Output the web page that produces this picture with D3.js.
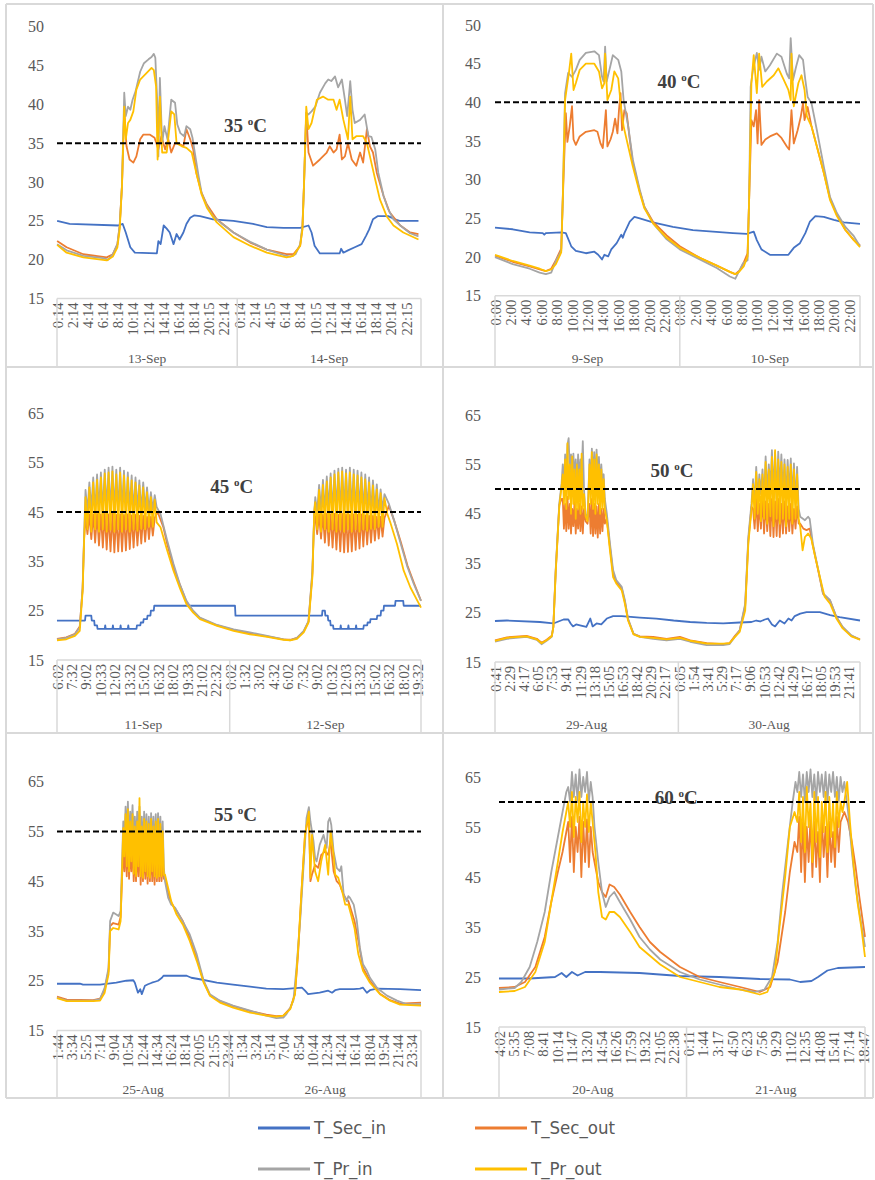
<!DOCTYPE html>
<html><head><meta charset="utf-8">
<script src="https://cdn.jsdelivr.net/npm/d3@7"></script>
<style>body{margin:0;background:#fff}svg{display:block}</style>
</head><body><svg id="c" width="875" height="1180"></svg>
<script>
// ---------------- DATA (time in hours from midnight of first day, value in °C) ----------------
const seriesNames = ["T_Sec_in","T_Sec_out","T_Pr_in","T_Pr_out"];
const seriesColors = ["#4472C4","#ED7D31","#A5A5A5","#FFC000"];
const thresholds = [35,40,45,50,55,60];

const p35_days = ["13-Sep","14-Sep"];
const p35_ticks1 = ["0:14","2:14","4:14","6:14","8:14","10:14","12:14","14:14","16:14","18:14","20:15","22:14"];
const p35_ticks2 = ["0:14","2:14","4:15","6:14","8:14","10:15","12:14","14:14","16:14","18:14","20:14","22:15"];
const p35_secIn = [[0.25,25.0],[1.9,24.6],[8.3,24.4],[8.9,24.6],[9.3,23.5],[9.9,21.6],[10.5,20.9],[13.4,20.8],[13.6,22.4],[13.9,22.0],[14.3,24.4],[14.7,24.0],[15.1,23.5],[15.6,22.0],[16.0,23.3],[16.4,22.6],[16.9,23.5],[17.3,24.6],[17.8,25.4],[18.3,25.7],[19.1,25.6],[20.8,25.2],[23.5,25.0],[26.1,24.6],[27.9,24.2],[30.1,24.1],[32.3,24.1],[33.4,24.4],[33.8,23.5],[34.2,21.8],[34.9,20.8],[37.5,20.8],[37.7,21.4],[38.0,20.9],[38.6,21.2],[39.5,21.6],[40.4,22.0],[41.0,23.1],[41.4,23.9],[41.9,25.2],[42.5,25.6],[43.9,25.6],[44.8,25.2],[45.4,25.0],[47.9,25.0]];
const p35_secOut = [[0.25,22.4],[1.5,21.6],[3.7,20.7],[6.8,20.3],[7.6,20.7],[8.2,22.0],[8.5,24.4],[8.8,29.5],[9.1,39.3],[9.4,34.6],[9.8,32.9],[10.3,32.5],[10.7,33.3],[11.2,35.5],[11.6,36.1],[12.5,36.1],[13.1,35.7],[13.6,34.2],[14.0,35.9],[14.5,34.2],[14.9,35.5],[15.3,33.8],[15.8,35.0],[16.4,34.9],[16.9,34.6],[17.3,36.8],[17.8,35.5],[18.2,34.2],[18.6,31.2],[19.3,28.6],[20.0,27.1],[21.3,25.2],[23.5,23.5],[25.7,22.2],[27.9,21.3],[30.5,20.7],[31.4,20.7],[32.3,21.8],[32.6,24.1],[32.8,29.5],[33.1,38.9],[33.4,33.8],[34.0,32.1],[34.9,32.9],[35.8,33.8],[36.2,34.6],[36.7,33.8],[37.1,34.2],[37.5,36.1],[37.8,32.9],[38.2,33.3],[38.6,35.0],[39.1,32.9],[39.7,32.1],[40.2,33.8],[40.6,32.5],[41.1,36.8],[41.5,34.6],[41.9,33.8],[42.4,31.2],[43.3,28.2],[44.1,26.1],[45.5,24.4],[46.8,23.5],[47.9,23.3]];
const p35_prIn = [[0.25,22.0],[1.5,21.2],[3.7,20.5],[6.3,20.2],[7.0,20.0],[7.6,20.7],[8.2,22.0],[8.5,24.4],[8.8,29.5],[9.1,41.5],[9.3,38.5],[9.6,39.7],[9.9,39.3],[10.2,40.6],[10.6,41.7],[11.2,44.2],[11.7,45.3],[12.3,45.8],[12.7,46.1],[13.0,46.5],[13.2,46.0],[13.5,39.3],[13.6,33.3],[13.8,43.4],[14.1,35.0],[14.4,37.2],[14.8,35.5],[15.3,40.6],[15.8,40.2],[16.1,37.4],[16.5,36.3],[17.0,35.9],[17.3,37.2],[17.8,36.8],[18.1,35.7],[18.4,33.8],[18.9,30.8],[19.3,28.6],[20.0,26.9],[20.8,25.6],[21.9,24.7],[23.5,23.5],[25.7,22.3],[27.9,21.3],[30.1,20.6],[31.0,20.4],[31.7,20.7],[32.3,22.0],[32.6,24.4],[32.8,29.5],[33.1,38.9],[33.4,38.7],[33.8,39.1],[34.3,39.7],[34.9,41.5],[35.6,42.7],[36.0,43.2],[36.4,43.0],[36.9,43.6],[37.3,42.2],[37.8,43.2],[38.2,40.6],[38.5,38.5],[38.9,43.0],[39.2,39.3],[39.5,37.6],[40.2,38.0],[40.8,38.7],[41.3,35.9],[41.7,35.8],[42.2,34.2],[42.6,31.2],[43.3,28.2],[43.9,26.5],[44.6,25.2],[45.5,24.4],[46.8,23.4],[47.9,23.0]];
const p35_prOut = [[0.25,21.9],[1.5,20.9],[3.7,20.3],[6.8,19.9],[7.6,20.4],[8.2,21.6],[8.5,23.9],[8.8,29.5],[9.1,39.7],[9.3,35.5],[9.6,37.6],[9.9,38.0],[10.3,39.1],[10.7,41.9],[11.2,43.2],[12.0,44.0],[12.7,44.7],[13.0,44.4],[13.3,42.3],[13.5,32.9],[13.8,41.0],[14.1,33.8],[14.7,33.8],[15.3,39.1],[15.7,38.7],[16.0,35.0],[16.7,34.6],[17.3,34.4],[18.0,33.8],[18.6,31.2],[19.3,28.4],[20.0,26.7],[21.3,24.8],[23.5,22.9],[25.7,21.8],[27.9,20.9],[30.5,20.3],[31.4,20.5],[32.3,21.8],[32.6,23.9],[32.8,29.5],[33.1,39.7],[33.4,36.8],[33.8,37.6],[34.5,40.6],[35.3,41.0],[36.0,40.6],[36.7,40.6],[37.1,39.3],[37.5,40.6],[38.0,38.0],[38.6,35.5],[38.9,41.0],[39.2,35.5],[39.7,35.9],[40.6,35.9],[41.1,35.0],[41.5,33.3],[42.2,30.3],[42.8,27.8],[43.7,25.6],[44.6,24.4],[45.9,23.5],[47.9,22.6]];

const p40_days = ["9-Sep","10-Sep"];
const p40_ticks1 = ["0:00","2:00","4:00","6:00","8:00","10:00","12:00","14:00","16:00","18:00","20:00","22:00"];
const p40_ticks2 = ["0:00","2:00","4:00","6:00","8:00","10:00","12:00","14:00","16:00","18:00","20:00","22:00"];
const p40_secIn = [[0,23.8],[2.3,23.6],[4.5,23.2],[6.2,23.1],[6.4,22.9],[6.6,23.1],[8.6,23.2],[9.2,23.1],[9.9,21.4],[10.5,20.8],[11.8,20.5],[12.9,20.7],[13.4,20.3],[13.9,19.7],[14.2,20.3],[14.7,20.1],[15.1,21.0],[15.8,21.8],[16.4,22.9],[16.6,22.5],[16.8,23.1],[17.5,24.6],[18.1,25.2],[18.8,25.0],[20.5,24.5],[23.1,23.9],[25.7,23.5],[28.3,23.3],[30.9,23.1],[32.7,23.0],[33.6,23.3],[34.0,22.2],[34.6,21.0],[35.7,20.3],[38.1,20.3],[38.8,21.2],[39.6,21.8],[40.3,23.1],[40.9,24.6],[41.6,25.3],[42.7,25.2],[44.0,24.8],[45.3,24.5],[47.4,24.3]];
const p40_secOut = [[0,20.2],[2.3,19.4],[4.5,18.8],[5.8,18.4],[6.6,18.2],[7.3,18.5],[7.9,19.6],[8.6,21.1],[8.8,27.4],[9.2,38.6],[9.4,34.9],[9.7,36.9],[10.0,39.5],[10.2,35.2],[10.5,34.5],[11.0,35.6],[11.8,36.2],[12.9,36.4],[13.3,36.2],[13.7,34.7],[14.0,34.1],[14.4,39.0],[14.6,34.3],[15.0,35.2],[15.3,36.2],[15.6,37.9],[15.9,36.0],[16.1,39.0],[16.3,41.2],[16.5,36.4],[16.8,39.0],[17.1,38.6],[17.5,35.2],[17.9,32.2],[18.8,28.5],[19.4,26.5],[20.5,24.6],[22.3,22.8],[24.0,21.4],[26.6,19.9],[28.8,18.9],[30.5,18.1],[31.2,17.8],[31.8,18.3],[32.3,19.3],[32.8,20.5],[33.0,27.4],[33.3,37.7],[33.6,36.9],[33.9,39.0],[34.1,34.7],[34.3,40.3],[34.6,34.5],[35.1,35.2],[35.7,35.6],[36.6,36.0],[37.2,35.4],[37.9,34.3],[38.2,33.9],[38.5,39.0],[38.8,34.7],[39.3,36.4],[39.7,38.1],[40.0,39.9],[40.2,37.7],[40.6,39.4],[41.1,36.9],[41.8,34.3],[42.7,30.9],[43.5,27.6],[44.4,25.5],[45.5,23.5],[46.6,22.2],[47.4,21.5]];
const p40_prIn = [[0,20.0],[2.3,19.1],[4.5,18.5],[5.8,18.0],[6.6,17.8],[7.3,18.0],[7.9,19.5],[8.6,20.8],[8.8,27.4],[9.1,41.2],[9.5,43.8],[10.0,43.3],[10.5,44.2],[11.0,45.5],[11.8,46.4],[12.9,46.6],[13.5,46.1],[13.9,43.3],[14.1,42.7],[14.3,47.2],[14.5,42.7],[15.0,44.8],[15.3,46.1],[16.0,45.5],[16.4,44.0],[16.7,40.3],[17.3,36.9],[17.9,32.6],[18.8,28.7],[19.4,26.5],[20.5,24.4],[22.3,22.3],[24.0,21.0],[26.6,19.7],[28.8,18.6],[30.5,17.5],[31.2,17.2],[31.6,18.0],[32.2,19.2],[32.8,19.6],[33.0,27.4],[33.2,42.0],[33.5,44.2],[34.0,46.4],[34.3,44.2],[34.6,45.9],[35.1,44.0],[35.7,44.8],[36.6,46.3],[37.2,45.9],[37.9,43.7],[38.2,43.1],[38.4,48.3],[38.7,42.9],[39.1,44.6],[39.5,46.1],[40.0,45.5],[40.3,42.9],[40.6,40.7],[41.1,39.9],[41.8,36.4],[42.7,31.7],[43.5,27.8],[44.4,25.7],[45.5,23.9],[46.6,22.7],[47.4,21.4]];
const p40_prOut = [[0,20.3],[2.3,19.5],[4.5,18.9],[5.8,18.5],[6.6,18.2],[7.3,18.4],[7.9,19.1],[8.6,20.6],[8.8,27.4],[9.1,40.3],[9.6,43.8],[9.9,46.3],[10.2,41.6],[10.5,42.5],[11.0,44.2],[11.8,45.0],[12.9,45.0],[13.5,44.0],[13.9,41.8],[14.2,42.5],[14.3,46.3],[14.6,40.3],[15.1,41.6],[15.5,44.0],[16.0,43.1],[16.4,39.0],[16.7,36.9],[17.3,34.3],[17.9,31.7],[18.8,28.3],[19.4,26.3],[20.5,24.4],[22.3,22.5],[24.0,21.2],[26.6,19.9],[28.8,18.9],[30.5,18.1],[31.2,17.8],[31.6,18.0],[32.3,18.8],[32.8,20.1],[33.0,27.4],[33.3,42.5],[33.6,46.1],[34.0,41.2],[34.3,46.3],[34.7,42.0],[35.3,42.7],[36.2,43.5],[36.8,44.4],[37.5,42.9],[38.1,41.6],[38.4,40.3],[38.5,46.3],[38.8,39.5],[39.4,42.5],[39.8,43.5],[40.2,41.6],[40.5,38.2],[41.1,36.9],[41.8,34.3],[42.7,30.9],[43.5,27.4],[44.4,25.3],[45.5,23.5],[46.6,22.2],[47.4,21.3]];

const p45_days = ["11-Sep","12-Sep"];
const p45_ticks1 = ["6:02","7:32","9:02","10:33","12:02","13:32","15:02","16:32","18:02","19:33","21:02","22:32"];
const p45_ticks2 = ["0:02","1:32","3:02","4:32","6:02","7:32","9:02","10:32","12:03","13:32","15:02","16:32","18:02","19:32"];
const p45_secIn = [[6.03,23],[8.95,23],[9.0,24],[9.6,24],[9.65,23],[9.9,23],[9.95,22],[10.2,22],[10.25,21.3],[11.0,21.3],[11.05,22],[11.1,21.3],[11.8,21.3],[11.85,22],[11.9,21.3],[12.6,21.3],[12.65,22],[12.7,21.3],[13.4,21.3],[13.45,22],[13.5,21.3],[14.3,21.3],[14.35,22],[14.7,22],[14.75,22.6],[15.0,22.6],[15.05,23.3],[15.4,23.3],[15.45,24],[15.75,24],[15.8,25],[16.1,25],[16.15,26],[24.55,26],[24.6,24],[33.6,24],[33.65,25],[33.9,25],[33.95,24],[34.2,24],[34.25,23],[34.45,23],[34.5,22],[34.75,22],[34.8,21.3],[35.5,21.3],[35.55,22],[35.6,21.3],[36.3,21.3],[36.35,22],[36.4,21.3],[37.1,21.3],[37.15,22],[37.2,21.3],[37.9,21.3],[37.95,22],[38.3,22],[38.35,22.6],[38.6,22.6],[38.65,23.3],[39.3,23.3],[39.35,24],[39.7,24],[39.75,25],[40.0,25],[40.05,26],[41.2,26],[41.25,27],[42.05,27],[42.1,26],[43.9,26]];
const p45_secOut = [[6.03,19.3],[7.0,19.6],[7.9,20.3],[8.4,21.8],[8.7,29.5],[8.85,39.5],[9.0,44],[9.2,40.5],[9.4,44.5],[9.6,39.5],[9.8,44.5],[10.0,38.8],[10.2,44.6],[10.4,38.2],[10.6,44.5],[10.8,37.8],[11.0,44.6],[11.2,37.4],[11.4,44.5],[11.6,37],[11.8,44.6],[12.0,36.8],[12.2,44.4],[12.4,37],[12.6,44.5],[12.8,37],[13.0,44.4],[13.2,37.2],[13.4,44.5],[13.6,37.5],[13.8,44.3],[14.0,37.8],[14.2,44.4],[14.4,38.2],[14.6,44.2],[14.8,38.6],[15.0,44.2],[15.2,39],[15.4,44],[15.6,39.5],[15.8,44],[16.0,40.2],[16.2,43.8],[16.5,45.0],[17.1,41.9],[17.5,38.5],[18.15,33.8],[18.85,30.1],[19.5,26.8],[20.2,24.8],[20.9,23.5],[22.7,22.0],[24.4,21.1],[26.1,20.4],[27.9,19.8],[29.6,19.2],[30.3,19.1],[31.0,19.5],[31.7,20.8],[32.2,22.8],[32.6,32.5],[32.8,44.6],[32.9,44],[33.1,40.5],[33.3,44.5],[33.5,39.6],[33.7,44.4],[33.9,38.8],[34.1,44.6],[34.3,38.2],[34.5,44.5],[34.7,37.8],[34.9,44.6],[35.1,37.4],[35.3,44.4],[35.5,37],[35.7,44.6],[35.9,36.8],[36.1,44.5],[36.3,36.9],[36.5,44.4],[36.7,37],[36.9,44.5],[37.1,37.3],[37.3,44.4],[37.5,37.6],[37.7,44.5],[37.9,38],[38.1,44.3],[38.3,38.4],[38.5,44.2],[38.7,38.8],[38.9,44.2],[39.1,39.2],[39.3,44],[39.5,39.6],[39.7,44],[39.9,40],[40.1,43.8],[40.4,45.3],[40.55,46.3],[41.1,43.3],[41.8,38.9],[42.5,34.1],[43.15,30.7],[43.9,27.0]];
const p45_prIn = [[6.03,19.2],[7.0,19.5],[7.9,20.2],[8.4,21.6],[8.7,29.7],[8.85,40],[9.0,49.5],[9.2,45],[9.4,51],[9.6,45.5],[9.8,52],[10.0,45],[10.2,52.6],[10.4,45.5],[10.6,53],[10.8,45],[11.0,53.6],[11.2,45.5],[11.4,54],[11.6,45],[11.8,54.2],[12.0,45.2],[12.2,53.6],[12.4,45],[12.6,54],[12.8,45.4],[13.0,53.4],[13.2,45],[13.4,53],[13.6,45.5],[13.8,52.4],[14.0,45],[14.2,52],[14.4,45.3],[14.6,51.4],[14.8,45],[15.0,51],[15.2,45.5],[15.4,50],[15.6,45.2],[15.8,49],[16.0,45.5],[16.2,48.4],[16.4,46.0],[16.8,44.6],[17.5,39.2],[18.15,34.5],[18.8,30.4],[19.5,27.0],[20.2,25.0],[20.9,23.6],[22.7,22.1],[24.4,21.2],[26.1,20.6],[27.9,19.9],[29.6,19.2],[30.3,19.0],[31.0,19.5],[31.7,20.9],[32.2,22.9],[32.6,33.1],[32.8,45],[32.9,48],[33.1,45],[33.3,50.5],[33.5,45.5],[33.7,51.5],[33.9,45],[34.1,52.2],[34.3,45.5],[34.5,52.8],[34.7,45],[34.9,53.4],[35.1,45.4],[35.3,53.8],[35.5,45],[35.7,54],[35.9,45.5],[36.1,53.6],[36.3,45],[36.5,54],[36.7,45.3],[36.9,53.6],[37.1,45],[37.3,53.4],[37.5,45.5],[37.7,53],[37.9,45],[38.1,52.6],[38.3,45.4],[38.5,52],[38.7,45],[38.9,51.4],[39.1,45.5],[39.3,50.6],[39.5,45],[39.7,49.6],[39.9,45.4],[40.1,48.6],[40.55,46.7],[41.1,43.3],[41.8,38.5],[42.5,33.8],[43.15,30.4],[43.9,27.0]];
const p45_prOut = [[6.03,19.0],[7.0,19.2],[7.9,19.9],[8.4,20.9],[8.7,29],[8.85,39],[9.0,48],[9.2,41.5],[9.4,50],[9.6,41],[9.8,51],[10.0,41.5],[10.2,51.5],[10.4,41],[10.6,52],[10.8,41.5],[11.0,52.8],[11.2,41],[11.4,53],[11.6,41.4],[11.8,53.2],[12.0,41],[12.2,52.6],[12.4,41.5],[12.6,53],[12.8,41],[13.0,52.4],[13.2,41.5],[13.4,52],[13.6,41],[13.8,51.4],[14.0,41.5],[14.2,51],[14.4,41.2],[14.6,50.4],[14.8,41.6],[15.0,50],[15.2,41.5],[15.4,49],[15.6,42],[15.8,48],[16.0,42],[16.2,47.5],[16.4,42.9],[16.8,41.9],[17.5,37.2],[18.15,33.1],[18.85,29.4],[19.5,26.3],[20.2,24.6],[20.9,23.3],[22.7,21.9],[24.4,20.9],[26.1,20.2],[27.9,19.7],[29.6,19.1],[30.3,19.0],[31.0,19.3],[31.7,20.6],[32.2,22.6],[32.6,31.8],[32.8,45.3],[32.9,47],[33.1,41.5],[33.3,49.5],[33.5,41],[33.7,50.5],[33.9,41.5],[34.1,51.2],[34.3,41],[34.5,52],[34.7,41.5],[34.9,52.6],[35.1,41],[35.3,53],[35.5,41.4],[35.7,53.2],[35.9,41],[36.1,52.8],[36.3,41.5],[36.5,53],[36.7,41],[36.9,52.6],[37.1,41.5],[37.3,52.4],[37.5,41],[37.7,52],[37.9,41.5],[38.1,51.6],[38.3,41.2],[38.5,51],[38.7,41.6],[38.9,50.4],[39.1,41.5],[39.3,49.6],[39.5,42],[39.7,48.8],[39.9,42],[40.1,47.8],[40.4,44.6],[40.7,42.9],[41.4,38.5],[42.1,33.1],[42.8,29.7],[43.9,25.6]];

const p50_days = ["29-Aug","30-Aug"];
const p50_ticks1 = ["0:41","2:29","4:17","6:05","7:53","9:41","11:29","13:18","15:05","16:53","18:42","20:29","22:17"];
const p50_ticks2 = ["0:05","1:54","3:41","5:29","7:17","9:06","10:53","12:42","14:29","16:17","18:05","19:53","21:41"];
const p50_secIn = [[0.68,23.3],[2.2,23.4],[6.4,23.1],[8.1,22.8],[9.4,23.6],[10.0,23.6],[10.3,22.8],[10.6,22.2],[11.0,22.6],[11.5,22.4],[12.3,22.1],[12.8,23.8],[13.1,22.2],[13.6,22.8],[14.2,22.6],[14.9,23.8],[15.7,24.3],[16.8,24.3],[19.1,24.0],[21.2,23.8],[23.4,23.4],[25.5,23.1],[27.6,22.9],[29.7,22.8],[31.8,23.0],[33.3,23.1],[33.9,23.4],[34.4,23.2],[35.0,23.6],[35.4,23.8],[35.9,22.6],[36.3,22.2],[36.9,23.4],[37.5,22.8],[38.0,23.8],[38.4,23.4],[38.8,24.3],[39.5,24.8],[40.3,25.1],[42.0,25.1],[43.3,24.5],[44.5,24.1],[47.1,23.4]];
const p50_secOut = [[0.68,19.4],[2.2,20.0],[4.7,20.3],[6.0,19.7],[6.6,18.9],[7.25,19.5],[7.9,20.3],[8.1,22.1],[8.4,33.3],[8.86,46.8],[9.15,48],[9.3,48],[9.45,42],[9.6,47],[9.75,41.5],[9.9,48.4],[10.05,42],[10.2,47],[10.35,41],[10.5,46],[10.65,42.5],[10.8,47.5],[10.95,41],[11.1,46],[11.25,42],[11.4,47],[11.55,41.5],[11.7,46.5],[11.85,41],[12.0,46],[12.2,43.5],[12.45,43],[12.7,47],[12.85,41],[13.0,48],[13.15,40.5],[13.3,47],[13.45,41],[13.6,46.5],[13.75,40.2],[13.9,47],[14.05,41],[14.2,46],[14.35,41.5],[14.5,46],[14.65,43],[14.9,44],[15.3,38.3],[15.7,32.9],[16.1,31.2],[16.8,29.9],[17.2,27.2],[17.6,23.6],[18.3,20.7],[19.1,20.2],[20.8,20.1],[22.5,19.7],[24.2,20.1],[25.5,19.4],[27.6,18.8],[29.7,18.6],[30.5,18.8],[31.2,20.3],[31.8,21.4],[32.5,26.4],[32.9,39.6],[33.3,46.4],[33.5,46],[33.7,42],[33.9,48],[34.1,41.5],[34.3,47],[34.5,42],[34.7,48.4],[34.9,41],[35.1,47.5],[35.3,41.5],[35.5,47],[35.7,40.5],[35.9,48],[36.1,40.3],[36.3,47.5],[36.5,40.5],[36.7,48],[36.9,40.3],[37.1,47],[37.3,41],[37.5,47.5],[37.7,41],[37.9,46.5],[38.1,41.5],[38.3,47],[38.5,41],[38.7,46],[38.9,42],[39.1,46.5],[39.3,43],[39.5,43],[39.9,42],[40.3,41.7],[40.7,42],[41.1,38.6],[41.8,33.4],[42.4,28.8],[43.3,27.4],[44.1,24.1],[44.9,22],[46.0,20.3],[47.1,19.6]];
const p50_prIn = [[0.68,19.1],[2.2,19.7],[4.7,20.1],[6.0,19.5],[6.6,18.6],[7.25,19.3],[7.9,20.1],[8.1,22.1],[8.4,33.6],[8.86,47.1],[9.15,51.1],[9.3,55],[9.45,50],[9.6,57],[9.75,52],[9.9,59],[10.05,60.3],[10.2,53],[10.35,57],[10.5,51],[10.65,57.2],[10.8,52],[10.95,56],[11.1,50],[11.25,57],[11.4,52],[11.55,56],[11.7,53],[11.85,59.7],[12.0,50],[12.2,45],[12.45,44],[12.7,56],[12.85,50],[13.0,58.2],[13.15,52],[13.3,57.5],[13.45,51],[13.6,58],[13.75,52],[13.9,56.5],[14.05,50],[14.2,55],[14.35,51],[14.5,53],[14.65,48],[14.9,45.1],[15.3,39],[15.7,33.6],[16.1,31.6],[16.8,30.2],[17.2,27.5],[17.6,23.8],[18.3,20.7],[19.1,20.1],[20.8,19.7],[22.5,19.4],[24.2,19.7],[25.5,19.1],[27.6,18.4],[29.7,18.4],[30.5,18.6],[31.2,20.1],[31.8,21.4],[32.5,26.8],[32.9,40.3],[33.3,47.1],[33.5,52],[33.7,47],[33.9,54.5],[34.1,48],[34.3,53],[34.5,49],[34.7,54],[34.9,48],[35.1,56.6],[35.3,49],[35.5,55],[35.7,50],[35.9,57.9],[36.1,49],[36.3,57.5],[36.5,48],[36.7,57.6],[36.9,50],[37.1,57],[37.3,49],[37.5,56],[37.7,48],[37.9,55.9],[38.1,49],[38.3,56.2],[38.5,48],[38.7,55.2],[38.9,47],[39.1,54.5],[39.3,46],[39.5,44.4],[40.1,43.7],[40.5,44.4],[40.7,44],[41.1,39],[41.8,33.6],[42.4,28.9],[43.3,27.5],[44.1,24.1],[44.9,22.1],[46.0,20.4],[47.1,19.5]];
const p50_prOut = [[0.68,19.3],[2.2,19.9],[4.7,20.2],[6.0,19.6],[6.6,18.8],[7.25,19.4],[7.9,20.2],[8.1,22.0],[8.4,33.0],[8.86,46.5],[9.15,50.5],[9.3,53],[9.45,47],[9.6,56],[9.75,46],[9.9,59.3],[10.05,48],[10.2,55],[10.35,45],[10.5,56.6],[10.65,47],[10.8,54],[10.95,44],[11.1,55],[11.25,46],[11.4,54],[11.55,45],[11.7,57.2],[11.85,46],[12.0,49],[12.2,44.5],[12.45,43.5],[12.7,55],[12.85,47],[13.0,57.5],[13.15,46],[13.3,56],[13.45,45],[13.6,57],[13.75,47],[13.9,55],[14.05,45],[14.2,54],[14.35,46],[14.5,52],[14.65,46],[14.9,43.7],[15.3,37.6],[15.7,32.2],[16.1,30.9],[16.8,29.5],[17.2,26.8],[17.6,23.4],[18.3,20.6],[19.1,20.1],[20.8,19.9],[22.5,19.6],[24.2,19.9],[25.5,19.3],[27.6,18.7],[29.7,18.7],[30.5,18.8],[31.2,20.1],[31.8,21.1],[32.5,25.4],[32.9,39.0],[33.3,45.7],[33.5,51],[33.7,44],[33.9,53.5],[34.1,45],[34.3,52],[34.5,43.5],[34.7,53],[34.9,44],[35.1,55.5],[35.3,43],[35.5,54],[35.7,44.5],[35.9,56.5],[36.1,42.5],[36.3,57.9],[36.5,44],[36.7,56],[36.9,43],[37.1,55.5],[37.3,44],[37.5,55],[37.7,42.5],[37.9,54.5],[38.1,44],[38.3,55],[38.5,43],[38.7,54],[38.9,44],[39.1,53],[39.3,44],[39.5,42.4],[39.8,37.6],[40.1,40.3],[40.5,41],[40.9,40],[41.4,36.3],[42.0,32.2],[42.6,28.2],[43.3,26.8],[44.1,23.8],[44.9,21.8],[46.0,20.2],[47.1,19.5]];

const p55_days = ["25-Aug","26-Aug"];
const p55_ticks1 = ["1:44","3:34","5:25","7:14","9:04","10:54","12:44","14:34","16:24","18:14","20:05","21:55","23:44"];
const p55_ticks2 = ["1:34","3:24","5:14","7:04","8:54","10:44","12:34","14:24","16:14","18:04","19:54","21:44","23:34"];
const p55_secIn = [[1.73,24.4],[4.7,24.4],[5.1,24.2],[7.3,24.2],[9.4,24.6],[10.7,25.0],[11.6,25.1],[11.8,24.6],[12.0,23.6],[12.2,22.6],[12.5,23.3],[12.7,22.3],[13.1,24.0],[13.5,24.3],[14.0,24.6],[14.4,24.8],[14.8,25.0],[15.3,25.6],[15.5,26.0],[18.5,26.0],[19.1,25.6],[20.2,25.3],[22.4,24.6],[24.5,24.2],[26.7,23.8],[28.8,23.4],[31.0,23.3],[33.4,23.6],[33.8,23.0],[34.2,22.3],[34.7,22.4],[35.7,22.6],[36.8,23.0],[37.3,22.6],[37.7,23.1],[38.3,23.3],[40.1,23.3],[40.9,23.4],[41.3,23.6],[41.8,22.6],[42.2,23.1],[43.1,23.4],[46.1,23.3],[48.8,23.1]];
const p55_secOut = [[1.73,21.8],[3.0,21.2],[6.4,21.1],[7.3,21.4],[7.9,23.2],[8.4,27],[8.6,36],[9.0,36.6],[9.7,36.3],[9.96,37.8],[10.3,52],[10.45,47],[10.6,53],[10.75,46],[10.9,54],[11.05,45.5],[11.2,52],[11.35,47],[11.5,53],[11.65,45],[11.8,51],[11.95,45],[12.1,52],[12.25,46],[12.4,54],[12.55,44.3],[12.7,51],[12.85,45],[13.0,52],[13.15,45.5],[13.3,51],[13.45,44.5],[13.6,52],[13.75,45],[13.9,51.5],[14.05,45],[14.2,51],[14.35,44.3],[14.5,52],[14.65,45],[14.8,51],[14.95,45],[15.1,50.5],[15.25,45],[15.4,49],[15.55,45.5],[15.7,45.7],[16.1,42.7],[16.5,40.7],[17.2,39],[18.0,37],[18.9,33.5],[19.8,29.5],[20.7,24.8],[21.5,22.1],[22.8,20.9],[24.5,19.9],[26.7,18.9],[28.8,18.2],[30.1,17.9],[31.0,18.0],[31.9,19.5],[32.5,22.3],[32.9,30.3],[33.4,44.3],[33.8,54.3],[34.3,58.3],[34.5,45],[34.7,46.3],[35.1,48.3],[35.5,47.7],[35.9,50.3],[36.4,51],[36.8,50.3],[37.1,53],[37.5,47],[37.9,45],[38.3,44.3],[38.6,43],[39.0,41.7],[39.4,41],[39.8,39],[40.2,37],[40.7,33],[41.3,27.6],[42.2,25],[43.5,22.4],[44.8,21.1],[46.1,20.4],[48.8,20.6]];
const p55_prIn = [[1.73,21.6],[3.0,21.0],[6.4,21.0],[7.3,21.3],[7.9,23.6],[8.4,27.6],[8.6,37.0],[9.0,38.7],[9.7,38.0],[9.96,39.0],[10.3,57],[10.45,53],[10.6,60],[10.75,54],[10.9,61],[11.05,52],[11.2,59],[11.35,55],[11.5,60.3],[11.65,53],[11.8,58],[11.95,52],[12.1,59],[12.25,54],[12.4,60],[12.55,50],[12.7,58],[12.85,51],[13.0,59],[13.15,52],[13.3,58.5],[13.45,50],[13.6,58],[13.75,51],[13.9,58.7],[14.05,52],[14.2,58],[14.35,50],[14.5,58.5],[14.65,51],[14.8,58.7],[14.95,52],[15.1,58],[15.25,50],[15.4,57],[15.55,47.7],[15.7,45],[16.1,41.7],[16.5,40.3],[17.0,39.7],[17.6,38],[18.2,36.3],[18.9,34.3],[19.8,30.3],[20.7,25],[21.5,22.3],[22.8,21],[24.5,20],[26.7,19],[28.8,18],[30.1,17.5],[31.0,17.6],[31.4,18.3],[31.9,19.6],[32.3,21],[32.7,27.6],[33.2,37.6],[33.6,47.7],[34.0,57.7],[34.3,59.9],[34.5,57],[34.9,53],[35.1,49.7],[35.3,49],[35.7,52.3],[36.2,54.3],[36.6,51.7],[36.8,57],[37.0,57.7],[37.2,56.3],[37.5,51],[37.9,47.7],[38.3,47],[38.5,48],[38.8,42.3],[39.2,41],[39.4,42],[39.6,41.7],[40.1,40.3],[40.5,37],[40.9,31.6],[41.3,28.3],[41.8,27],[42.2,25.6],[43.1,23.6],[44.4,22],[45.7,21],[46.9,20.3],[48.8,20.3]];
const p55_prOut = [[1.73,21.5],[3.0,20.9],[6.4,20.9],[7.3,21.0],[7.9,22.6],[8.4,26.3],[8.6,35],[9.0,35.6],[9.7,35.3],[9.96,37],[10.3,55.7],[10.45,50],[10.6,58.5],[10.75,48],[10.9,59.5],[11.05,47],[11.2,57],[11.35,49],[11.5,58.5],[11.65,46.5],[11.8,56],[11.95,46],[12.1,57],[12.25,48],[12.4,61.7],[12.55,46],[12.7,56],[12.85,45.7],[13.0,57.5],[13.15,47],[13.3,57],[13.45,46],[13.6,56.5],[13.75,45.7],[13.9,57.5],[14.05,47],[14.2,56],[14.35,46],[14.5,57],[14.65,45.7],[14.8,57.5],[14.95,46],[15.1,56.5],[15.25,46],[15.4,55],[15.55,46.3],[15.7,46.3],[16.1,43.7],[16.5,41],[17.2,38.3],[18.0,36.3],[18.9,33],[19.8,29],[20.7,24.6],[21.5,22],[22.8,20.6],[24.5,19.6],[26.7,18.6],[28.8,18],[30.1,17.8],[31.0,18],[31.9,19.3],[32.5,22.3],[32.9,31],[33.4,44.3],[33.8,54.3],[34.3,59],[34.5,45.7],[34.7,54.3],[35.1,47],[35.5,45],[35.9,49],[36.4,52.3],[36.8,46.3],[37.1,55],[37.5,50.3],[37.7,46.3],[38.1,45.7],[38.6,43],[39.0,40.3],[39.4,40.3],[39.8,38],[40.2,35.6],[40.7,30.3],[41.3,27],[42.2,24.6],[43.5,22.3],[44.8,21],[46.1,20.2],[48.8,20]];

const p60_days = ["20-Aug","21-Aug"];
const p60_ticks1 = ["4:02","5:35","7:08","8:41","10:14","11:47","13:20","14:54","16:26","17:59","19:32","21:05","22:38"];
const p60_ticks2 = ["0:11","1:44","3:17","4:50","6:23","7:56","9:29","11:02","12:35","14:08","15:41","17:14","18:47"];
const p60_secIn = [[4.03,24.7],[7.3,24.7],[10.0,25.0],[10.7,25.8],[11.2,25.0],[11.8,26.0],[12.4,25.3],[13.2,26.0],[14.8,26.0],[19.0,25.8],[23.3,25.2],[27.5,25.0],[31.8,24.6],[35.0,24.5],[36.1,24.0],[37.3,24.2],[38.0,25.0],[39.0,26.3],[40.1,26.8],[43.0,27.0]];
const p60_secOut = [[4.03,22.8],[5.7,23],[6.8,24],[7.9,27],[8.9,33],[9.6,40],[10.3,46],[10.8,50],[11.2,54],[11.4,56],[11.6,48],[11.8,57],[12.0,46],[12.2,55],[12.4,50],[12.6,57],[12.8,45],[13.0,56],[13.2,48],[13.4,56.5],[13.6,47],[13.8,55],[14.0,50],[14.3,47],[14.6,44],[15.0,42],[15.4,41],[15.8,43.5],[16.3,43],[16.9,41.5],[18.0,38],[19.0,35],[20.1,32],[21.2,30],[23.3,27],[25.4,25],[27.5,24],[29.7,23],[31.8,22],[32.9,23],[33.7,28],[34.5,38],[35.0,46],[35.5,52],[35.8,50],[36.0,57],[36.2,46],[36.4,56],[36.6,44],[36.8,55],[37.0,48],[37.2,57],[37.4,45],[37.6,56],[37.8,47],[38.0,54],[38.2,44],[38.4,57],[38.6,49],[38.8,55],[39.0,45],[39.2,56],[39.4,48],[39.6,54],[39.8,47],[40.0,57],[40.2,50],[40.4,56],[40.6,57],[40.8,58],[41.2,56],[41.6,52],[42.0,47],[42.4,41],[43.0,33]];
const p60_prIn = [[4.03,22.5],[5.7,22.8],[6.4,24],[7.3,27],[8.1,32],[8.9,38],[9.6,46],[10.3,53],[10.8,58],[11.2,62],[11.4,63],[11.6,60],[11.8,66],[12.0,61],[12.2,65.5],[12.4,60],[12.6,66.5],[12.8,61],[13.0,65],[13.2,62],[13.4,66],[13.6,60],[13.8,64],[14.0,61],[14.2,55],[14.6,48],[15.0,42],[15.4,39],[15.8,41],[16.3,42],[16.9,40],[18.0,36.5],[19.0,33],[20.1,30.5],[21.2,28.5],[23.3,26],[25.4,24.5],[27.5,23.5],[29.7,22.5],[31.3,22],[32.3,22.5],[33.1,25],[33.7,32],[34.2,42],[34.8,52],[35.3,60],[35.6,64],[35.8,62],[36.0,66],[36.2,61],[36.4,65.5],[36.6,60],[36.8,66],[37.0,62],[37.2,66.5],[37.4,61],[37.6,65.5],[37.8,60],[38.0,66],[38.2,62],[38.4,65.5],[38.6,61],[38.8,66],[39.0,60],[39.2,65.5],[39.4,62],[39.6,66],[39.8,61],[40.0,65],[40.2,60],[40.4,65],[40.6,62],[40.8,64],[41.2,58],[41.6,50],[42.0,43],[42.4,38],[43.0,31]];
const p60_prOut = [[4.03,22],[5.7,22.2],[6.8,23],[7.9,26],[8.9,32],[9.6,40],[10.3,48],[10.8,54],[11.2,58],[11.4,60],[11.6,55],[11.8,62],[12.0,53],[12.2,61],[12.4,56],[12.6,62],[12.8,52],[13.0,60],[13.2,55],[13.4,61.5],[13.6,54],[13.8,60],[14.0,56],[14.3,50],[14.6,42],[15.0,37],[15.4,36.5],[15.8,38],[16.3,38],[16.9,37],[18.0,34],[19.0,31],[21.2,27.5],[23.3,25],[25.4,24],[27.5,23],[29.7,22.5],[31.8,21.5],[32.6,22],[33.4,26],[33.9,35],[34.5,45],[35.0,55],[35.5,58],[35.8,56],[36.0,62],[36.2,52],[36.4,61],[36.6,50],[36.8,63],[37.0,55],[37.2,60],[37.4,48],[37.6,62],[37.8,52],[38.0,61],[38.2,49],[38.4,60],[38.6,54],[38.8,62],[39.0,50],[39.2,61],[39.4,53],[39.6,60],[39.8,51],[40.0,62],[40.2,55],[40.4,60],[40.6,58],[40.8,60],[41.1,64],[41.4,56],[41.8,47],[42.2,40],[42.6,35],[43.0,29]];

// ---------------- LAYOUT ----------------
const panels = [
  {thr:thresholds[0], days:p35_days, ticks:[p35_ticks1,p35_ticks2], series:[p35_secIn,p35_secOut,p35_prIn,p35_prOut], label:[25.1,36.4],
   x0:57, x1:421, dom:[0.233,48.233], yMin:15, yMax:50, yStep:5, yLo:298.5, yHi:26.7, bottom:367, yLabX:44},
  {thr:thresholds[1], days:p40_days, ticks:[p40_ticks1,p40_ticks2], series:[p40_secIn,p40_secOut,p40_prIn,p40_prOut], label:[23.9,41.8],
   x0:495, x1:860, dom:[0,47.4], yMin:15, yMax:50, yStep:5, yLo:295.8, yHi:25, bottom:367, yLabX:481},
  {thr:thresholds[2], days:p45_days, ticks:[p45_ticks1,p45_ticks2], series:[p45_secIn,p45_secOut,p45_prIn,p45_prOut], label:[24.2,48.8],
   x0:57, x1:421, dom:[6.033,43.9], yMin:15, yMax:65, yStep:10, yLo:660, yHi:413.3, bottom:733, yLabX:44},
  {thr:thresholds[3], days:p50_days, ticks:[p50_ticks1,p50_ticks2], series:[p50_secIn,p50_secOut,p50_prIn,p50_prOut], label:[23.2,52.4],
   x0:495, x1:860, dom:[0.683,47.1], yMin:15, yMax:65, yStep:10, yLo:662, yHi:415, bottom:733, yLabX:481},
  {thr:thresholds[4], days:p55_days, ticks:[p55_ticks1,p55_ticks2], series:[p55_secIn,p55_secOut,p55_prIn,p55_prOut], label:[24.8,57.1],
   x0:57, x1:421, dom:[1.733,48.8], yMin:15, yMax:65, yStep:10, yLo:1030.5, yHi:781.7, bottom:1098, yLabX:44},
  {thr:thresholds[5], days:p60_days, ticks:[p60_ticks1,p60_ticks2], series:[p60_secIn,p60_secOut,p60_prIn,p60_prOut], label:[22.9,59.6],
   x0:499, x1:865, dom:[4.033,43.0], yMin:15, yMax:65, yStep:10, yLo:1027, yHi:777, bottom:1098, yLabX:481}
];

const serif = "'Liberation Serif','Times New Roman',serif";
const gridCol = "#d9d9d9";
const svg = d3.select("#c");

// panel frames
const frame = svg.append("g").attr("stroke", gridCol).attr("stroke-width", 2).attr("fill", "none");
frame.append("path").attr("d", "M6,4H873M6,367H873M6,733H873M6,1098H873M6,4V1098M443,4V1098M873,4V1098");

panels.forEach(p => {
  const x = d3.scaleLinear().domain(p.dom).range([p.x0, p.x1]);
  const y = d3.scaleLinear().domain([p.yMin, p.yMax]).range([p.yLo, p.yHi]);
  const g = svg.append("g");

  // y axis labels
  const ya = d3.axisLeft(y).tickValues(d3.range(p.yMin, p.yMax + 0.01, p.yStep)).tickSize(0).tickPadding(0);
  const yg = g.append("g").attr("transform", `translate(${p.yLabX},0)`).call(ya);
  yg.select(".domain").remove();
  yg.selectAll("text").attr("font-family", serif).attr("font-size", 16).attr("fill", "#595959");

  // x axis (category style labels)
  const tickH = [], tickL = [];
  p.ticks.forEach((arr, di) => arr.forEach(s => {
    const [hh, mm] = s.split(":").map(Number);
    tickH.push(di * 24 + hh + mm / 60); tickL.push(s);
  }));
  const xa = d3.axisBottom(x).tickValues(tickH).tickFormat((d, i) => tickL[i]).tickSize(0).tickPadding(0);
  const xg = g.append("g").attr("transform", `translate(0,${p.yLo})`).call(xa);
  xg.select(".domain").remove();
  xg.selectAll("text")
    .attr("transform", "rotate(-90)").attr("text-anchor", "end")
    .attr("x", -4).attr("y", 0).attr("dy", "0.35em")
    .attr("font-family", serif).attr("font-size", 14.5).attr("fill", "#595959");

  // axis box
  const xd = x(24);
  g.append("path")
    .attr("d", `M${p.x0},${p.yLo}H${p.x1}M${p.x0},${p.yLo}V${p.bottom}M${xd},${p.yLo}V${p.bottom}M${p.x1},${p.yLo}V${p.bottom}`)
    .attr("stroke", gridCol).attr("stroke-width", 1.5).attr("fill", "none");

  // day labels
  [[p.x0, xd], [xd, p.x1]].forEach((r, i) => {
    g.append("text").attr("x", (r[0] + r[1]) / 2).attr("y", p.bottom - 4)
      .attr("text-anchor", "middle").attr("font-family", serif).attr("font-size", 13.5).attr("fill", "#595959")
      .text(p.days[i]);
  });

  // series
  const line = d3.line().x(d => x(d[0])).y(d => y(d[1]));
  p.series.forEach((s, i) => {
    g.append("path").datum(s).attr("d", line)
      .attr("fill", "none").attr("stroke", seriesColors[i]).attr("stroke-width", 1.8)
      .attr("stroke-linejoin", "round");
  });

  // threshold line
  g.append("line").attr("x1", p.x0).attr("x2", p.x1).attr("y1", y(p.thr)).attr("y2", y(p.thr))
    .attr("stroke", "#000").attr("stroke-width", 2).attr("stroke-dasharray", "6,3");

  // threshold label
  const t = g.append("text").attr("x", x(p.label[0])).attr("y", y(p.label[1]))
    .attr("text-anchor", "middle").attr("font-family", serif).attr("font-weight", "bold")
    .attr("font-size", 19).attr("fill", "#404040");
  t.append("tspan").text(p.thr + " ");
  t.append("tspan").attr("font-size", 11).attr("dy", -7).text("o");
  t.append("tspan").attr("dy", 7).text("C");
});

// legend
const legendPos = [[258,1128],[475,1128],[258,1169],[475,1169]];
const lg = svg.append("g");
seriesNames.forEach((n, i) => {
  const [lx, ly] = legendPos[i];
  lg.append("line").attr("x1", lx).attr("x2", lx + 52).attr("y1", ly).attr("y2", ly)
    .attr("stroke", seriesColors[i]).attr("stroke-width", 3);
  lg.append("text").attr("x", lx + 56).attr("y", ly).attr("dy", "0.35em")
    .attr("font-family", "'Liberation Sans Narrow','Arial Narrow','DejaVu Sans Condensed',sans-serif")
    .attr("font-size", 18.5).attr("fill", "#595959").text(n);
});
</script></body></html>
